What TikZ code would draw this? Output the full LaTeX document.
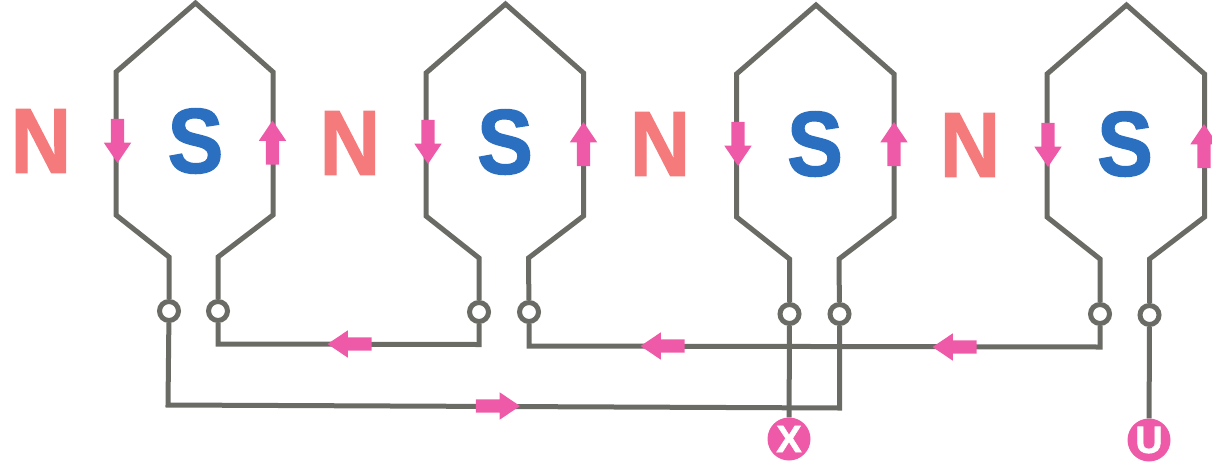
\documentclass[tikz,border=0pt]{standalone}
\usepackage{fontspec}
\setsansfont{Liberation Sans}
\newfontfamily\polefont[FakeBold=1.5]{Liberation Sans Bold}
\usetikzlibrary{calc,shapes.arrows}
\definecolor{wiregray}{HTML}{6B6B66}
\definecolor{npole}{HTML}{F57A7C}
\definecolor{spole}{HTML}{2B70C0}
\definecolor{flowpink}{HTML}{EF5AA8}
\tikzset{
  wire/.style={draw=wiregray,line width=5pt,line join=miter},
  terminal/.style={circle,draw=wiregray,line width=5pt,fill=white,minimum size=19pt,inner sep=0pt},
  lead/.style={circle,fill=flowpink,minimum size=43pt,inner sep=0pt,text=white,font=\polefont\fontsize{38}{38}\selectfont},
  npolelabel/.style={text=npole,inner sep=0pt,transform shape,xscale=.91,font=\polefont\fontsize{92}{92}\selectfont},
  spolelabel/.style={text=spole,inner sep=0pt,transform shape,xscale=.91,font=\polefont\fontsize{92}{92}\selectfont},
  flow/.style={single arrow,fill=flowpink,inner xsep=0pt,inner ysep=6.5pt,minimum height=44pt,
    single arrow head extend=7pt,single arrow tip angle=68,single arrow head indent=0pt,rotate=#1},
}
\begin{document}
\begin{tikzpicture}[x=1pt,y=-1pt]
 \useasboundingbox (0,0) rectangle (1212,461);
 \node[terminal] (a1) at (169,311) {};
 \node[terminal] (a2) at (218,311) {};
 \node[terminal] (b1) at (479,312) {};
 \node[terminal] (b2) at (529,312) {};
 \node[terminal] (c1) at (789.5,314) {};
 \node[terminal] (c2) at (839.5,314) {};
 \node[terminal] (d1) at (1100,314) {};
 \node[terminal] (d2) at (1149.5,315) {};
 \node[lead] (x) at (789,439) {X};
 \node[lead] (u) at (1149,440) {U};
 %
 \coordinate (w1) at (218,344);
 \coordinate (w2) at (479,344.5);
 \coordinate (w3) at (529,346);
 \coordinate (w4) at (1100,347);
 \coordinate (w5) at (168,405);
 \coordinate (w6) at (839.5,408);
 %
 \draw[wire] (a1) -- ++(0,-54) -- ++(-53,-42) -- ++(0,-143) -- ++(79.5,-69) -- ++(77.5,69) -- ++(0,143) -- ++(-55,42) -- (a2);
 \draw[wire] (b1) -- ++(0,-54) -- ++(-53,-42) -- ++(0,-143) -- ++(79.5,-69) -- ++(78,69) -- ++(0,143) -- ++(-55,42) -- (b2);
 \draw[wire] (c1) -- ++(0,-55) -- ++(-53,-42) -- ++(0,-143) -- ++(79.5,-69) -- ++(78,69) -- ++(0,143) -- ++(-55,42) -- (c2);
 \draw[wire] (d1) -- ++(0,-55) -- ++(-53,-42) -- ++(0,-143) -- ++(79.5,-69) -- ++(78,69) -- ++(0,143) -- ++(-55,42) -- (d2);
 %
 \draw[wire] (a2) -- (w1) -- (w2) -- (b1);
 \draw[wire] (b2) -- (w3) -- (w4) -- (d1);
 \draw[wire] (a1) -- (w5) -- (w6) -- (c2);
 \draw[wire] (c1) -- (x);
 \draw[wire] (d2) -- (u);
 %
 \node[npolelabel] (n1) at (41,141) {N};
 \node[spolelabel] (s1) at (195.5,141) {S};
 \node[npolelabel] (n2) at (350,143) {N};
 \node[spolelabel] (s2) at (505,142) {S};
 \node[npolelabel] (n3) at (660,144) {N};
 \node[spolelabel] (s3) at (815,144) {S};
 \node[npolelabel] (n4) at (970,145) {N};
 \node[spolelabel] (s4) at (1125,144) {S};
 %
 \node[flow=-90] (f1) at (117.5,136) {};
 \node[flow=90] (f2) at (272.5,147.5) {};
 \node[flow=-90] (f3) at (428,137) {};
 \node[flow=90] (f4) at (583.5,149) {};
 \node[flow=-90] (f5) at (738,139) {};
 \node[flow=90] (f6) at (894,149) {};
 \node[flow=-90] (f7) at (1048,140) {};
 \node[flow=90] (f8) at (1204,151) {};
 \node[flow=180] (f9) at (354.5,344) {};
 \node[flow=180] (f10) at (667.5,346) {};
 \node[flow=180] (f11) at (959.5,347) {};
 \node[flow=0] (f12) at (493,406) {};
\end{tikzpicture}
\end{document}
